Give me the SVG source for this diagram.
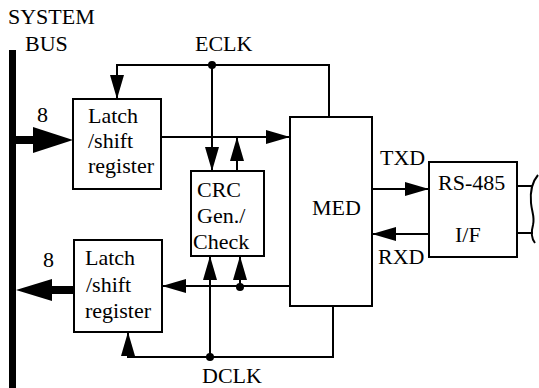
<svg xmlns="http://www.w3.org/2000/svg" width="539" height="388" viewBox="0 0 539 388">
<style>
text{font-family:'Liberation Serif','Times New Roman',Times,serif;font-size:22px;fill:#000}
.box{fill:#fff;stroke:#000;stroke-width:2}
.w{fill:none;stroke:#000;stroke-width:2}
.a{marker-end:url(#ah)}
</style>
<defs>
<marker id="ah" markerUnits="userSpaceOnUse" markerWidth="24" markerHeight="14" refX="24" refY="7" orient="auto">
<path d="M0,0 L24,7 L0,14 z" fill="#000"/>
</marker>
</defs>
<rect width="539" height="388" fill="#fff"/>
<g id="bus">
<rect x="9" y="50" width="7" height="338" fill="#000"/>
<text x="8" y="24" font-family="Liberation Serif, serif">SYSTEM</text>
<text x="25" y="51" font-family="Liberation Serif, serif">BUS</text>
</g>
<g id="latch-top">
<rect class="box" x="73" y="99" width="88" height="90"/>
<text x="88" y="123">Latch</text>
<text x="88" y="148">/shift</text>
<text x="88" y="173">register</text>
</g>
<g id="latch-bottom">
<rect class="box" x="74" y="240" width="88" height="92"/>
<text x="85" y="265">Latch</text>
<text x="86" y="292">/shift</text>
<text x="85" y="318">register</text>
</g>
<g id="crc">
<rect class="box" x="191" y="171" width="73" height="85"/>
<text x="197" y="197">CRC</text>
<text x="197" y="223">Gen./</text>
<text x="193" y="249">Check</text>
</g>
<g id="med">
<rect class="box" x="290" y="117" width="82" height="189"/>
<text x="312" y="215">MED</text>
</g>
<g id="rs485">
<rect class="box" x="429" y="162" width="88" height="95"/>
<text x="438" y="190">RS-485</text>
<text x="455" y="242">I/F</text>
</g>
<g id="connectors">
<path class="w a" d="M329,117 V65 H117 V99"/>
<path class="w a" d="M212,65 V171"/>
<path class="w a" d="M237,171 V137"/>
<path class="w a" d="M161,137 H290"/>
<path class="w a" d="M290,286 H162"/>
<path class="w a" d="M240,287 V256"/>
<path class="w a" d="M333,306 V357 H128 V332"/>
<path class="w a" d="M210,357 V256"/>
<path class="w a" d="M372,189 H429"/>
<path class="w a" d="M429,234 H372"/>
<path class="w" d="M517,186 H533 M517,233 H533"/>
<path class="w" d="M538,175 C532,182 530,192 531,203 C532,213 535,217 533,225 C531,232 531,238 535,243"/>
<line x1="16" y1="140" x2="36" y2="140" stroke="#000" stroke-width="8"/>
<polygon points="33,127 73,140 33,153" fill="#000"/>
<line x1="50" y1="290" x2="74" y2="290" stroke="#000" stroke-width="8"/>
<polygon points="16,290 52,279 52,301" fill="#000"/>
<circle cx="212" cy="65" r="4"/>
<circle cx="240" cy="287" r="4"/>
<circle cx="210" cy="357" r="4"/>
<text x="37" y="122">8</text>
<text x="43" y="267">8</text>
<text x="195" y="51">ECLK</text>
<text x="202" y="383">DCLK</text>
<text x="380" y="165">TXD</text>
<text x="378" y="264">RXD</text>
</g>
</svg>
